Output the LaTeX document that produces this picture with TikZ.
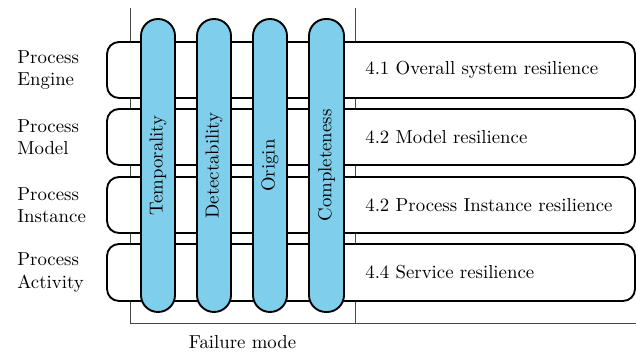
\documentclass[tikz,border=0pt]{standalone}
\usetikzlibrary{fit}
\definecolor{pillblue}{RGB}{127,206,235}
\definecolor{axisgray}{RGB}{70,70,70}
\begin{document}
\begin{tikzpicture}[x=0.532pt,y=-0.532pt,
  rowbox/.style={draw=black,fill=white,line width=1pt,rounded corners=6.4pt,inner sep=0pt},
  pill/.style={draw=black,fill=pillblue,line width=1pt,rounded corners=9pt,inner sep=0pt},
  axisline/.style={draw=axisgray,line width=0.5pt},
  layer/.style={align=left,anchor=west,inner sep=0pt},
  section/.style={anchor=west,inner sep=0pt},
  mode/.style={rotate=90,inner sep=0pt}]
\useasboundingbox (0,0) rectangle (636,354);

% axes of the failure-mode area
\coordinate (axTL) at (130,8);
\coordinate (axBL) at (130,323);
\coordinate (axTM) at (355,8);
\coordinate (axBM) at (355,323);
\coordinate (axBR) at (636,323);
\coordinate (lx) at (17,0);
\coordinate (sx) at (365,0);
\draw[axisline] (axTL) -- (axBL) -- (axBR);
\draw[axisline] (axTM) -- (axBM);

% layer rows
\node[rowbox,fit={(107,42) (635,98)}] (r1) {};
\node[rowbox,fit={(107,109) (635,165)}] (r2) {};
\node[rowbox,fit={(107,177) (635,233)}] (r3) {};
\node[rowbox,fit={(107,244) (635,301)}] (r4) {};

% failure-mode columns
\node[pill,fit={(141,19) (175,312)}] (c1) {};
\node[pill,fit={(197,19) (231,312)}] (c2) {};
\node[pill,fit={(253,19) (287,312)}] (c3) {};
\node[pill,fit={(309,19) (344,312)}] (c4) {};
\node[mode] (t1) at (c1.center) {Temporality};
\node[mode] (t2) at (c2.center) {Detectability};
\node[mode] (t3) at (c3.center) {Origin};
\node[mode] (t4) at (c4.center) {Completeness};

% layer names
\node[layer] (l1) at (lx |- r1.center) {Process\\Engine};
\node[layer] (l2) at (lx |- r2.center) {Process\\Model};
\node[layer] (l3) at (lx |- r3.center) {Process\\Instance};
\node[layer] (l4) at (lx |- r4.center) {Process\\Activity};

% section references
\node[section] (s1) at (sx |- r1.center) {4.1 Overall system resilience};
\node[section] (s2) at (sx |- r2.center) {4.2 Model resilience};
\node[section] (s3) at (sx |- r3.center) {4.2 Process Instance resilience};
\node[section] (s4) at (sx |- r4.center) {4.4 Service resilience};

\node (fm) at (242.5,342) {Failure mode};
\end{tikzpicture}
\end{document}
